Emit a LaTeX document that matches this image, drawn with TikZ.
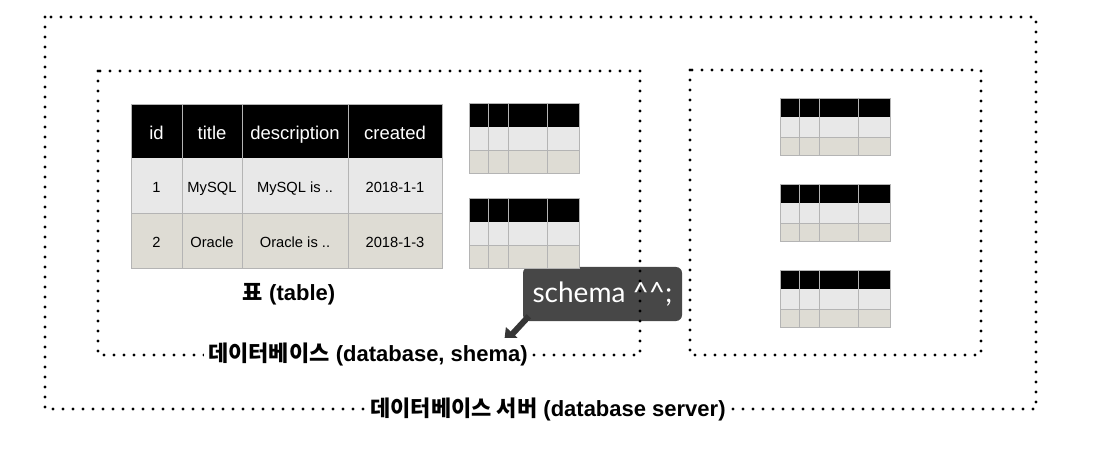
\documentclass[tikz,border=0pt]{standalone}
\usepackage{fontspec}
\setmainfont{Liberation Sans}
\newfontfamily\kr{Noto Sans CJK KR}
\newfontfamily\tipfont{Lato}
\usetikzlibrary{arrows.meta}
\definecolor{rowone}{HTML}{E8E8E8}
\definecolor{rowtwo}{HTML}{DEDCD4}
\definecolor{gridgray}{HTML}{B4B4B4}
\definecolor{tipgray}{HTML}{474747}
\definecolor{arrowgray}{HTML}{363636}
% a small table: (#1,#2) is its top left corner, #3 its height
\newcommand{\minitable}[3]{
	\fill[black] (#1,#2) rectangle (#1+110,#2+0.34*#3);
	\fill[rowone] (#1,#2+0.34*#3) rectangle (#1+110,#2+0.68*#3);
	\fill[rowtwo] (#1,#2+0.68*#3) rectangle (#1+110,#2+#3);
	\draw[gridgray] (#1,#2+0.68*#3) -- (#1+110,#2+0.68*#3);
	\foreach \cx in {19,39,78}
		\draw[gridgray] (#1+\cx,#2) -- (#1+\cx,#2+#3);
	\draw[gridgray] (#1,#2) rectangle (#1+110,#2+#3);
}
\begin{document}
\begin{tikzpicture}
		[x=1pt,y=-1pt,
		dotbox/.style={line width=3.4pt,line cap=round,dash pattern=on 0pt off 10pt},
		boxlabel/.style={fill=white,font=\bfseries\fontsize{22}{26}\selectfont,inner sep=4pt},
		headcell/.style={text=white,text height=0.75em,text depth=0.22em,font=\fontsize{18.5}{22}\selectfont},
		bodycell/.style={text=black,text height=0.75em,text depth=0.22em,font=\fontsize{14.7}{18}\selectfont}]
		\useasboundingbox (0,0) rectangle (1101,449);

		% the callout goes first, the dotted frame runs over it
		\node[fill=tipgray,rounded corners=6pt,minimum width=159pt,minimum height=54pt,
			text=white,font=\tipfont\fontsize{28}{32}\selectfont] (tip) at (602.5,294) {schema \textasciicircum\textasciicircum;};
		\coordinate (tipend) at (504,343);
		\draw[arrowgray,line width=6pt,-{Triangle[length=13pt,width=18pt]}] ([shift={(6,-5)}]tip.south west) -- (tipend);

		% the dotted frames of the server and the two databases
		\draw[dotbox] (45,17) rectangle (1036,409);
		\draw[dotbox] (98,71) rectangle (640,355);
		\draw[dotbox] (690,70) rectangle (981,355);
		\node[boxlabel] (server) at (548,409) {{\kr 데이터베이스 서버} (database server)};
		\node[boxlabel] (db) at (368,354) {{\kr 데이터베이스} (database, shema)};

		% the big table
		\fill[black] (131,104) rectangle (442,158);
		\fill[rowone] (131,158) rectangle (442,213);
		\fill[rowtwo] (131,213) rectangle (442,268);
		\draw[gridgray] (131,213) -- (442,213);
		\foreach \cx in {182,242,348}
			\draw[gridgray] (\cx,104) -- (\cx,268);
		\draw[gridgray] (131,104) rectangle (442,268);
		\node[headcell] (hid) at (156.5,137) {id};
		\node[headcell] (htitle) at (212,137) {title};
		\node[headcell] (hdesc) at (295,137) {description};
		\node[headcell] (hcreated) at (395,137) {created};
		\node[bodycell] (aid) at (156.5,190) {1};
		\node[bodycell] (atitle) at (212,190) {MySQL};
		\node[bodycell] (adesc) at (295,190) {MySQL is ..};
		\node[bodycell] (acreated) at (395,190) {2018-1-1};
		\node[bodycell] (bid) at (156.5,245) {2};
		\node[bodycell] (btitle) at (212,245) {Oracle};
		\node[bodycell] (bdesc) at (295,245) {Oracle is ..};
		\node[bodycell] (bcreated) at (395,245) {2018-1-3};
		\node[font=\bfseries\fontsize{22}{26}\selectfont] (table) at (289,294) {{\kr 표} (table)};

		% the small tables
		\minitable{469}{103}{70}
		\minitable{469}{198}{70}
		\minitable{780}{98}{57}
		\minitable{780}{184}{57}
		\minitable{780}{270}{57}
	\end{tikzpicture}
\end{document}
